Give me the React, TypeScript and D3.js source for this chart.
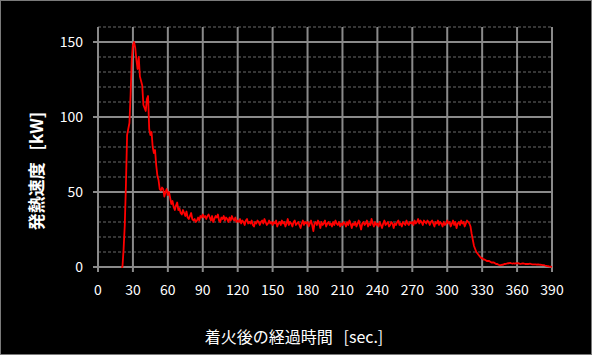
import React from "react";
import * as d3 from "d3";

const W = 592;
const H = 355;

const xTicks = [0, 30, 60, 90, 120, 150, 180, 210, 240, 270, 300, 330, 360, 390];
const yTicks = [0, 50, 100, 150];
const yMinor = [10, 20, 30, 40, 60, 70, 80, 90, 110, 120, 130, 140, 160];

const startTime = 20;
const stepSec = 1;

// heat release rate [kW], 1-second samples from t = 20 s
const hrrRise = [
  0, 0, 12, 28, 55, 88, 92, 96, 115, 138,
  148, 150, 146, 138, 132, 140, 127, 124, 121, 108,
  106, 104, 112, 114, 92, 88, 90, 80, 76, 78,
  68, 61, 58, 52, 51, 53, 52, 47, 50, 52,
  48, 50, 46, 42, 44, 40, 38, 41, 43, 38,
  39, 36, 35, 38, 36, 34, 37, 33, 32, 34,
  36, 32, 31, 32, 30, 31, 33, 31, 34, 33,
];
const hrrSteady = [
  35, 33, 34, 32, 34, 35, 33, 31, 34, 30, 32, 34, 33, 35, 31, 30, 33, 32, 34, 31, 33, 32, 30, 33, 31, 34, 32, 31, 33, 30,
  31, 30, 32, 29, 31, 30, 28, 31, 32, 29, 30, 29, 31, 28, 27, 30, 29, 31, 30, 28, 30, 31, 29, 32, 30, 28, 29, 31, 29, 30,
  28, 30, 29, 31, 27, 29, 30, 28, 31, 29, 30, 27, 29, 32, 28, 30, 29, 27, 30, 31, 28, 29, 30, 28, 26, 29, 31, 28, 30, 29,
  30, 27, 29, 31, 28, 24, 29, 30, 28, 31, 29, 26, 30, 28, 29, 31, 27, 29, 30, 28, 29, 27, 30, 28, 31, 29, 28, 30, 27, 29,
  28, 30, 29, 27, 30, 28, 31, 29, 26, 29, 28, 30, 27, 29, 31, 28, 25, 29, 30, 28, 29, 31, 27, 29, 28, 32, 29, 27, 30, 28,
  29, 27, 30, 28, 26, 29, 31, 28, 29, 30, 27, 28, 30, 29, 26, 29, 28, 30, 31, 28, 29, 27, 30, 29, 28, 31, 29, 28, 30, 29,
  30, 28, 31, 29, 30, 32, 29, 31, 30, 28, 31, 30, 29, 31, 30, 28, 30, 31, 29, 27, 30, 29, 31, 28, 30, 29, 27, 30, 28, 29,
  31, 29, 30, 27, 29, 31, 28, 30, 26, 29, 30, 28, 31, 29, 30, 27, 29, 31, 30, 29,
];
const hrrDecay = [
  27, 22, 18, 14, 12, 10, 9, 8, 7, 6,
  6, 5, 5, 4.5, 4, 4, 4, 3.5, 3, 3,
  3, 2.5, 2, 2, 1.5, 1.2, 1.2, 1.5, 1.5, 2,
  2, 2.2, 2.5, 2.5, 2.8, 2.5, 2.3, 2.5, 2.2, 2.5,
  2.4, 2.6, 2.2, 2, 2.2, 2.4, 2.2, 2, 2.1, 2,
  2, 2.2, 2, 1.8, 1.8, 1.8, 1.8, 1.6, 1.8, 1.6,
  1.5, 1.4, 1.2, 1.3, 1, 0.8, 0.6, 0.5, 0.3, 0.2,
  0,
];

const hrr = [...hrrRise, ...hrrSteady, ...hrrDecay];
const data = hrr.map((v, i) => ({ t: startTime + i * stepSec, v }));

const left = 98;
const right = 552;
const bottom = 267;
const top = 27;

const x = d3.scaleLinear().domain([0, 390]).range([left, right]);
const y = d3.scaleLinear().domain([0, 160]).range([bottom, top]);

const line = d3
  .line<{ t: number; v: number }>()
  .x((d) => x(d.t))
  .y((d) => y(d.v));

const font = '"Noto Sans CJK JP", "Noto Sans", sans-serif';
const grid = "#8a8a8a";
const minorGrid = "#6a6a6a";

export default function App() {
  return (
    <svg
      width={W}
      height={H}
      style={{ position: "fixed", left: 0, top: 0, display: "block" }}
      fontFamily={font}
    >
      <rect x={0} y={0} width={W} height={H} fill="#000" />
      <rect x={0.5} y={0.5} width={W - 1} height={H - 1} fill="none" stroke="#7a7a7a" strokeWidth={1} />

      {yMinor.map((v) => (
        <line key={"m" + v} x1={left} x2={right} y1={y(v)} y2={y(v)} stroke={minorGrid} strokeWidth={1} strokeDasharray="3,2" />
      ))}
      {xTicks.map((t) => (
        <line key={"vx" + t} x1={x(t)} x2={x(t)} y1={top} y2={bottom + 5} stroke={grid} strokeWidth={2} />
      ))}
      {yTicks.map((v) => (
        <line key={"hy" + v} x1={left - 5} x2={right} y1={y(v)} y2={y(v)} stroke={grid} strokeWidth={2} />
      ))}

      <path d={line(data) || ""} fill="none" stroke="#ff0000" strokeWidth={1.8} strokeLinejoin="round" />

      {yTicks.map((v) => (
        <text key={"yl" + v} x={83} y={y(v)} dy="0.35em" textAnchor="end" fill="#fff" fontSize={14}>
          {v}
        </text>
      ))}
      {xTicks.map((t) => (
        <text key={"xl" + t} x={x(t)} y={290} dy="0.35em" textAnchor="middle" fill="#fff" fontSize={14}>
          {t}
        </text>
      ))}

      <text
        x={0}
        y={0}
        transform={`translate(37,171) rotate(-90)`}
        textAnchor="middle"
        dy="0.35em"
        fill="#fff"
        fontSize={17}
        fontWeight="bold"
        style={{ whiteSpace: "pre" }}
      >
        {"発熱速度   [kW]"}
      </text>
      <text
        x={294}
        y={337}
        textAnchor="middle"
        dy="0.35em"
        fill="#fff"
        fontSize={16}
        style={{ whiteSpace: "pre" }}
      >
        {"着火後の経過時間   [sec.]"}
      </text>
    </svg>
  );
}
